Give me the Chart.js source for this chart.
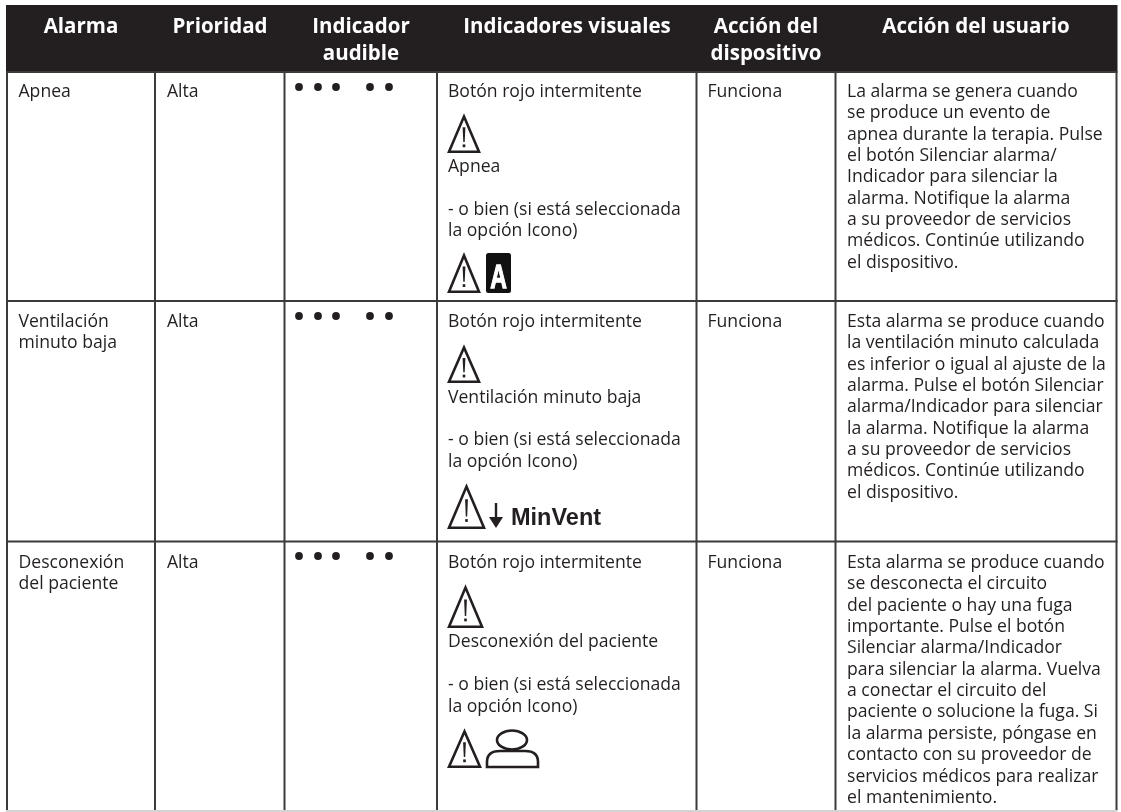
<!DOCTYPE html>
<html lang="es">
<head>
<meta charset="utf-8">
<title>Alarmas</title>
<script src="https://cdn.jsdelivr.net/npm/chart.js@4/dist/chart.umd.min.js"></script>
<style>
  html, body { margin: 0; padding: 0; background: #fff; }
  canvas { display: block; }
</style>
</head>
<body>
<canvas id="alarmTable" width="1121" height="812"></canvas>
<script>
// Table content
const headers = [
  ['Alarma'],
  ['Prioridad'],
  ['Indicador', 'audible'],
  ['Indicadores visuales'],
  ['Acción del', 'dispositivo'],
  ['Acción del usuario']
];
const alarms = [['Apnea'], ['Ventilación', 'minuto baja'], ['Desconexión', 'del paciente']];
const priorities = ['Alta', 'Alta', 'Alta'];
const deviceActions = ['Funciona', 'Funciona', 'Funciona'];
const visualFirst = 'Botón rojo intermitente';
const visualMessages = ['Apnea', 'Ventilación minuto baja', 'Desconexión del paciente'];
const visualOr = ['- o bien (si está seleccionada', 'la opción Icono)'];
const userActions = [
  ['La alarma se genera cuando', 'se produce un evento de', 'apnea durante la terapia. Pulse', 'el botón Silenciar alarma/',
   'Indicador para silenciar la', 'alarma. Notifique la alarma', 'a su proveedor de servicios', 'médicos. Continúe utilizando', 'el dispositivo.'],
  ['Esta alarma se produce cuando', 'la ventilación minuto calculada', 'es inferior o igual al ajuste de la', 'alarma. Pulse el botón Silenciar',
   'alarma/Indicador para silenciar', 'la alarma. Notifique la alarma', 'a su proveedor de servicios', 'médicos. Continúe utilizando', 'el dispositivo.'],
  ['Esta alarma se produce cuando', 'se desconecta el circuito', 'del paciente o hay una fuga', 'importante. Pulse el botón', 'Silenciar alarma/Indicador',
   'para silenciar la alarma. Vuelva', 'a conectar el circuito del', 'paciente o solucione la fuga. Si', 'la alarma persiste, póngase en',
   'contacto con su proveedor de', 'servicios médicos para realizar', 'el mantenimiento.']
];

// Table geometry, read in image units
const colEdges = [7, 155, 284.5, 437, 696.5, 835.5, 1116.5];
const rowEdges = [5, 72, 301, 541.5, 810];
const beepX = [299, 318, 336, 370, 389];
const beepY = [87, 316, 556];

const INK = '#231f20';
const RULE = '#3c3a3b';
const BODY_FONT = '17.6px "Open Sans"';
const HEAD_FONT = 'bold 20.5px "Open Sans"';
const LEADING = 21.35;

const points = beepY.flatMap(y => beepX.map(x => ({ x, y })));
const ruleSets = [
  ...colEdges.map(x => [{ x, y: rowEdges[1] }, { x, y: rowEdges[4] }]),
  ...rowEdges.slice(1, 4).map(y => [{ x: colEdges[0] - 1, y }, { x: colEdges[6] + 1, y }])
];
const footRule = [{ x: colEdges[0] - 1, y: 811 }, { x: colEdges[6] + 1, y: 811 }];

const tablePlugin = {
  id: 'tablePlugin',
  beforeDatasetsDraw(chart) {
    const { ctx, scales: { x: xs, y: ys } } = chart;
    const left = xs.getPixelForValue(colEdges[0]);
    const right = xs.getPixelForValue(colEdges[6]);
    const top = ys.getPixelForValue(rowEdges[0]);
    const bottom = ys.getPixelForValue(rowEdges[1]);
    ctx.fillStyle = INK;
    ctx.fillRect(left - 1, top, right - left + 2, bottom - top);
  },
  afterDatasetsDraw(chart) {
    const { ctx, scales: { x: xs, y: ys } } = chart;
    const X = v => xs.getPixelForValue(v);
    const Y = v => ys.getPixelForValue(v);

    const text = (str, x, y, font) => {
      ctx.font = font;
      ctx.fillText(str, X(x), Y(y));
    };

    // header band labels
    const headCenters = [81, 220, 361, 567, 766, 976];
    ctx.fillStyle = '#ffffff';
    ctx.textAlign = 'center';
    ctx.textBaseline = 'alphabetic';
    headers.forEach((lines, c) => {
      lines.forEach((line, i) => text(line, headCenters[c], 33 + i * 27, HEAD_FONT));
    });

    // body cells
    ctx.fillStyle = INK;
    ctx.textAlign = 'left';
    const firstBase = [97, 327, 568];
    const msgBase = [172, 403, 647];
    const orBase = [214.5, 445, 690];
    firstBase.forEach((base, r) => {
      alarms[r].forEach((line, i) => text(line, 18.5, base + i * LEADING, BODY_FONT));
      text(priorities[r], 167, base, BODY_FONT);
      text(visualFirst, 448, base, BODY_FONT);
      text(visualMessages[r], 448, msgBase[r], BODY_FONT);
      visualOr.forEach((line, i) => text(line, 448, orBase[r] + i * 21.5, BODY_FONT));
      text(deviceActions[r], 707.5, base, BODY_FONT);
      userActions[r].forEach((line, i) => text(line, 847, base + i * LEADING, BODY_FONT));
    });

    const warn = (x0, y0, x1, y1) => {
      const cx = (x0 + x1) / 2, h = y1 - y0;
      ctx.strokeStyle = INK;
      ctx.lineWidth = 2.6;
      ctx.lineJoin = 'miter';
      ctx.beginPath();
      ctx.moveTo(X(x0 + 1), Y(y1 - 1.3));
      ctx.lineTo(X(cx), Y(y0 + 2.5));
      ctx.lineTo(X(x1 - 1), Y(y1 - 1.3));
      ctx.closePath();
      ctx.stroke();
      // tapered exclamation mark
      ctx.fillStyle = INK;
      ctx.beginPath();
      ctx.moveTo(X(cx - 1.4), Y(y0 + h * 0.34));
      ctx.lineTo(X(cx + 1.4), Y(y0 + h * 0.34));
      ctx.lineTo(X(cx + 0.7), Y(y0 + h * 0.72));
      ctx.lineTo(X(cx - 0.7), Y(y0 + h * 0.72));
      ctx.closePath();
      ctx.fill();
      ctx.fillRect(X(cx - 1.3), Y(y0 + h * 0.78), 2.6, 2.8);
    };

    warn(448, 114, 480, 153);
    warn(448, 253, 480, 293);
    warn(448, 345, 480, 383);
    warn(448, 484, 485, 529);
    warn(448, 585, 483, 628);
    warn(448, 729, 481, 768);

    // "A" apnea tile
    ctx.fillStyle = '#111111';
    ctx.beginPath();
    ctx.roundRect(X(486), Y(253), 25, 40, 2.5);
    ctx.fill();
    ctx.save();
    ctx.translate(X(498.5), Y(288));
    ctx.scale(0.72, 1.05);
    ctx.fillStyle = '#ffffff';
    ctx.strokeStyle = '#ffffff';
    ctx.lineWidth = 1.2;
    ctx.textAlign = 'center';
    ctx.font = 'bold 32px "Liberation Sans"';
    ctx.fillText('A', 0, 0);
    ctx.strokeText('A', 0, 0);
    ctx.restore();

    // down arrow + MinVent
    ctx.strokeStyle = INK;
    ctx.lineWidth = 2.4;
    ctx.beginPath();
    ctx.moveTo(X(496), Y(503));
    ctx.lineTo(X(496), Y(522));
    ctx.stroke();
    ctx.fillStyle = INK;
    ctx.beginPath();
    ctx.moveTo(X(489), Y(517));
    ctx.lineTo(X(503), Y(517));
    ctx.lineTo(X(496), Y(528));
    ctx.closePath();
    ctx.fill();
    ctx.textAlign = 'left';
    text('MinVent', 511, 525, 'bold 23.5px "Liberation Sans"');

    // person icon
    ctx.strokeStyle = INK;
    ctx.lineWidth = 2.6;
    ctx.beginPath();
    ctx.ellipse(X(512), Y(740), 15, 9.5, 0, 0, Math.PI * 2);
    ctx.stroke();
    ctx.beginPath();
    ctx.moveTo(X(487), Y(767));
    ctx.lineTo(X(487), Y(762));
    ctx.quadraticCurveTo(X(487), Y(751), X(500), Y(751));
    ctx.lineTo(X(525), Y(751));
    ctx.quadraticCurveTo(X(538), Y(751), X(538), Y(762));
    ctx.lineTo(X(538), Y(767));
    ctx.closePath();
    ctx.stroke();
  }
};

new Chart(document.getElementById('alarmTable'), {
  type: 'scatter',
  data: {
    datasets: [
      ...ruleSets.map(data => ({
        data,
        showLine: true,
        borderColor: RULE,
        borderWidth: 2,
        pointRadius: 0
      })),
      {
        data: footRule,
        showLine: true,
        borderColor: '#c4c4c4',
        borderWidth: 1.5,
        pointRadius: 0
      },
      {
        data: points,
        backgroundColor: INK,
        borderWidth: 0,
        pointRadius: 3.9
      }
    ]
  },
  options: {
    responsive: false,
    animation: false,
    devicePixelRatio: 1,
    layout: { padding: 0, autoPadding: false },
    plugins: { legend: { display: false }, tooltip: { enabled: false } },
    scales: {
      x: { type: 'linear', min: 0, max: 1121, display: false },
      y: { type: 'linear', min: 0, max: 812, reverse: true, display: false }
    }
  },
  plugins: [tablePlugin]
});
</script>
</body>
</html>
